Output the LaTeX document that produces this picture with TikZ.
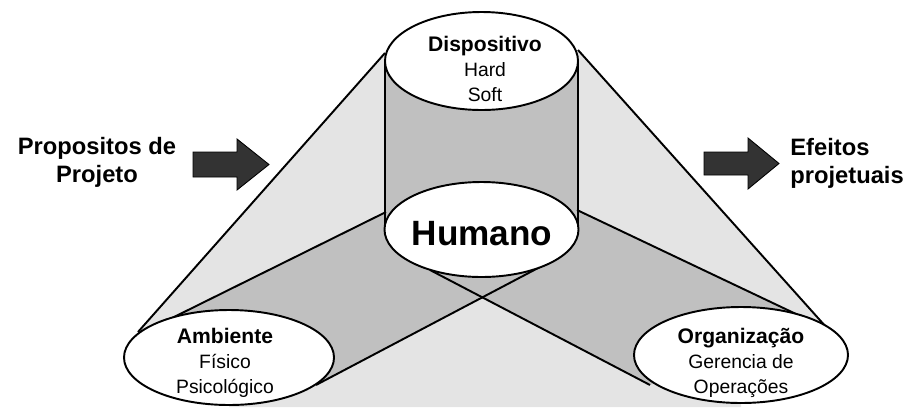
\documentclass[tikz,border=0pt]{standalone}
\usepackage{fontspec}
\setmainfont{Liberation Sans}
\definecolor{lightgrey}{HTML}{E4E4E4}
\definecolor{midgrey}{HTML}{C0C0C0}
\definecolor{arrowgrey}{HTML}{333333}
\begin{document}
\begin{tikzpicture}[scale=0.2]
\tikzstyle{every node}+=[inner sep=0pt, align=center]
\tikzstyle{outline}=[black, line width=1.1pt]
\tikzstyle{disc}=[outline, fill=white]
\tikzstyle{bigarrow}=[fill=arrowgrey, draw=black, line width=0.5pt]
\tikzstyle{sidelabel}=[font=\fontsize{13.5}{16}\selectfont\bfseries]
\tikzstyle{disclabel}=[font=\fontsize{11}{14.2}\selectfont]
\useasboundingbox (0,0) rectangle (90.7,-40.7);
% tangent points
\coordinate (topL) at (38.5,-5.3);
\coordinate (topR) at (57.8,-5.0);
\coordinate (ambL) at (13.8,-33.2);
\coordinate (orgR) at (82.7,-32.8);
\coordinate (humUL) at (38.6,-21.2);
\coordinate (humUR) at (57.7,-21.0);
\coordinate (humLL) at (43.0,-27.0);
\coordinate (humLR) at (54.0,-26.7);
\coordinate (ambT) at (17.2,-31.8);
\coordinate (ambB) at (31.6,-38.5);
\coordinate (orgT) at (79.6,-31.4);
\coordinate (orgB) at (65.0,-38.5);
% light grey cone
\fill [lightgrey] (topL) -- (ambL) -- (22.9,-35.75) -- (22.9,-40.7) -- (74.1,-40.7) -- (74.1,-35.5) -- (orgR) -- (topR) -- cycle;
% mid grey cylinder and bands
\fill [midgrey] (38.5,-6.1) rectangle (57.8,-22.95);
\fill [midgrey] (humUL) -- (ambT) -- (ambB) -- (humLR) -- cycle;
\fill [midgrey] (humUR) -- (orgT) -- (orgB) -- (humLL) -- cycle;
\draw [outline] (topL) -- (ambL);
\draw [outline] (topR) -- (orgR);
\draw [outline] (38.5,-6.1) -- (38.5,-22.95);
\draw [outline] (57.8,-6.1) -- (57.8,-22.95);
\draw [outline] (humUL) -- (ambT);
\draw [outline] (humLR) -- (ambB);
\draw [outline] (humUR) -- (orgT);
\draw [outline] (humLL) -- (orgB);
% discs
\draw [disc] (48.15,-6.1) ellipse (9.65 and 4.9);
\draw [disc] (48.15,-22.95) ellipse (9.7 and 4.75);
\draw [disc] (22.9,-35.75) ellipse (10.5 and 4.75);
\draw [disc] (74.1,-35.5) ellipse (10.7 and 4.8);
\node (disp) [disclabel, anchor=north] at (48.5,-3.6) {{\bfseries\fontsize{12}{14.2}\selectfont Dispositivo}\\Hard\\Soft};
\node (hum) [font=\fontsize{20}{24}\selectfont\bfseries] at (48.2,-23.35) {Humano};
\node (amb) [disclabel, anchor=north] at (22.5,-32.8) {{\bfseries\fontsize{12}{14.2}\selectfont Ambiente}\\Físico\\Psicológico};
\node (org) [disclabel, anchor=north] at (74.1,-32.8) {{\bfseries\fontsize{12}{14.2}\selectfont Organização}\\Gerencia de\\Operações};
% side arrows
\draw [bigarrow] (19.3,-15.2) -- (23.7,-15.2) -- (23.7,-13.9) -- (26.9,-16.45) -- (23.7,-19.0) -- (23.7,-17.7) -- (19.3,-17.7) -- cycle;
\draw [bigarrow] (70.4,-15.2) -- (74.8,-15.2) -- (74.8,-13.8) -- (77.9,-16.35) -- (74.8,-18.9) -- (74.8,-17.5) -- (70.4,-17.5) -- cycle;
\node (purp) [sidelabel] at (9.7,-16.25) {Propositos de\\Projeto};
\node (eff) [sidelabel, anchor=west, align=left] at (79.0,-16.35) {Efeitos\\projetuais};
\end{tikzpicture}
\end{document}
